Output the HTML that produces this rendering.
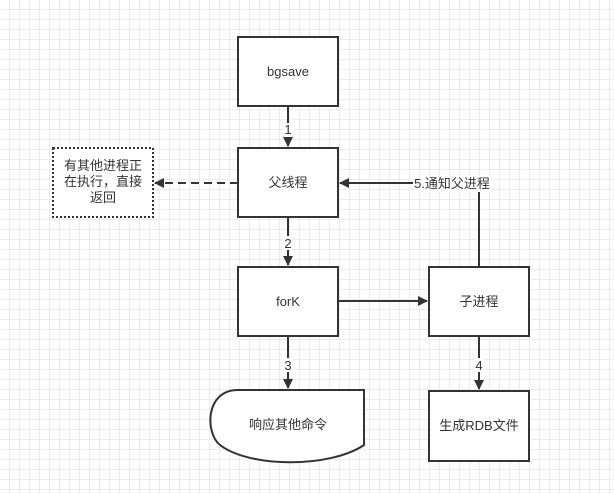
<!DOCTYPE html>
<html><head><meta charset="utf-8"><style>
body{margin:0;width:614px;height:494px;overflow:hidden;background:#fff;
background-image:linear-gradient(#ececec 1px,transparent 1px),linear-gradient(90deg,#ececec 1px,transparent 1px);
background-size:10px 10px;background-position:-1px -1px;}
svg{position:absolute;left:0;top:0}
text{font-family:"Liberation Sans","Noto Sans CJK SC",sans-serif;font-size:13px;fill:#333}
</style></head><body>
<svg width="614" height="494" viewBox="0 0 614 494">
<defs><marker id="a" markerWidth="10" markerHeight="10" refX="9" refY="5" orient="auto" markerUnits="userSpaceOnUse"><path d="M0,0 L10,5 L0,10 z" fill="#333"/></marker></defs>
<g fill="#fff" stroke="#333" stroke-width="2">
<rect x="238" y="37" width="100" height="69"/>
<rect x="238" y="148" width="100" height="69"/>
<rect x="238" y="267" width="100" height="69"/>
<rect x="429" y="267" width="100" height="69"/>
<rect x="429" y="391" width="100" height="70"/>
<path d="M364,390 L238,390 C205,390 205,433 220,445 C250,468 330,468 364,445 Z"/>
<rect x="53" y="148" width="100" height="69" stroke-dasharray="2,2"/>
</g>
<g stroke="#333" stroke-width="2" fill="none">
<line x1="288" y1="106" x2="288" y2="146" marker-end="url(#a)"/>
<line x1="288" y1="217" x2="288" y2="265" marker-end="url(#a)"/>
<line x1="288" y1="336" x2="288" y2="388" marker-end="url(#a)"/>
<line x1="479" y1="336" x2="479" y2="389" marker-end="url(#a)"/>
<line x1="338" y1="301" x2="427" y2="301" marker-end="url(#a)"/>
<polyline points="479,267 479,183 340,183" marker-end="url(#a)"/>
<line x1="238" y1="183" x2="155" y2="183" stroke-dasharray="8,5" marker-end="url(#a)"/>
</g>
<g text-anchor="middle">
<text x="288" y="76">bgsave</text>
<text x="288" y="187">父线程</text>
<text x="288" y="306">forK</text>
<text x="479" y="306">子进程</text>
<text x="479" y="430">生成RDB文件</text>
<text x="288" y="429">响应其他命令</text>
<text x="103" y="170" font-size="12">有其他进程正</text>
<text x="103" y="186" font-size="12">在执行，直接</text>
<text x="103" y="202" font-size="12">返回</text>
</g>
<g text-anchor="middle" font-size="12">
<rect x="283" y="123" width="10" height="14" fill="#fff"/><text x="288" y="134">1</text>
<rect x="283" y="236" width="10" height="14" fill="#fff"/><text x="288" y="248">2</text>
<rect x="283" y="358" width="10" height="14" fill="#fff"/><text x="288" y="370">3</text>
<rect x="474" y="358" width="10" height="14" fill="#fff"/><text x="479" y="370">4</text>
<rect x="413" y="176" width="78" height="16" fill="#fff"/><text x="452" y="188">5.通知父进程</text>
</g>
</svg>
</body></html>
